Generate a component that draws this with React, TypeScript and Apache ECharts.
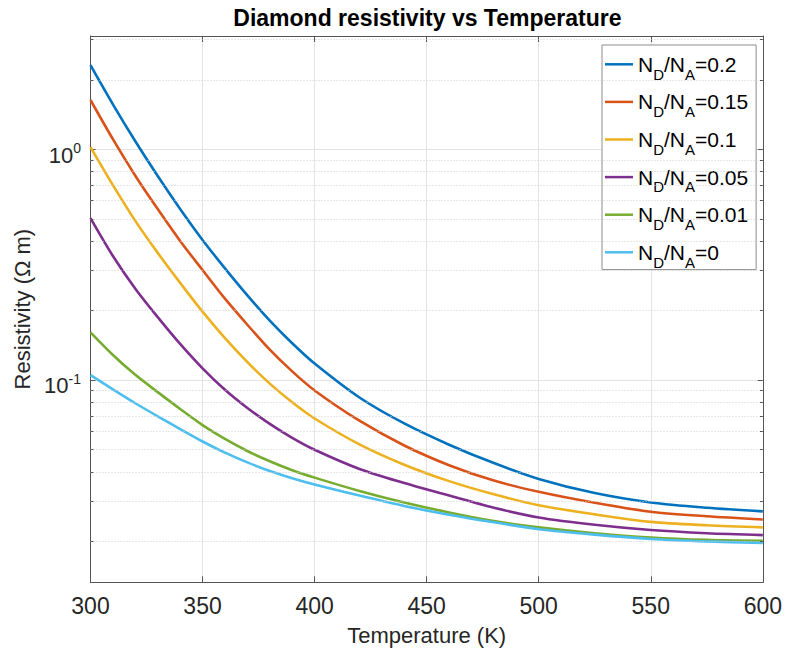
import React, { useEffect, useRef } from 'react';
import * as echarts from 'echarts';

// Temperature samples (K)
const temperatures = [300, 310, 320, 330, 340, 350, 360, 370, 380, 390, 400, 420, 440, 460, 480, 500, 525, 550, 575, 600];

// Resistivity (Ohm m) for each N_D/N_A ratio
const ratio020 = [2.317, 1.567, 1.084, 0.767, 0.552, 0.405, 0.305, 0.233, 0.181, 0.1445, 0.118, 0.0841, 0.0649, 0.0525, 0.0437, 0.0373, 0.0324, 0.0295, 0.028, 0.027];
const ratio015 = [1.637, 1.107, 0.769, 0.551, 0.401, 0.3, 0.2254, 0.1738, 0.1355, 0.1091, 0.0902, 0.0667, 0.0521, 0.0428, 0.0367, 0.0328, 0.0294, 0.0269, 0.0257, 0.0249];
const ratio010 = [1.023, 0.7, 0.49, 0.356, 0.264, 0.198, 0.152, 0.1197, 0.0966, 0.0802, 0.0682, 0.0527, 0.043, 0.0365, 0.032, 0.0287, 0.0262, 0.0243, 0.0235, 0.023];
const ratio005 = [0.5035, 0.345, 0.249, 0.1875, 0.1435, 0.1125, 0.0908, 0.0757, 0.0646, 0.0562, 0.0499, 0.0412, 0.0358, 0.0316, 0.028, 0.0254, 0.0236, 0.0224, 0.0217, 0.0213];
const ratio001 = [0.161, 0.1285, 0.1054, 0.0887, 0.075, 0.0638, 0.0556, 0.0493, 0.0445, 0.0407, 0.0378, 0.0331, 0.0295, 0.0267, 0.0245, 0.023, 0.0217, 0.0208, 0.0203, 0.0201];
const ratio000 = [0.1052, 0.0912, 0.0794, 0.0697, 0.0614, 0.0542, 0.0485, 0.044, 0.0404, 0.0376, 0.0353, 0.0316, 0.0285, 0.0261, 0.0242, 0.0226, 0.0214, 0.0205, 0.02, 0.0197];

const seriesValues = [ratio020, ratio015, ratio010, ratio005, ratio001, ratio000];
const ratioLabels = ['0.2', '0.15', '0.1', '0.05', '0.01', '0'];
const seriesColors = ['#0072BD', '#D95319', '#EDB120', '#7E2F8E', '#77AC30', '#4DBEEE'];

// Axis settings
const xMin = 300;
const xMax = 600;
const xInterval = 50;
const yMin = 0.0133;
const yMax = 3.1;
const minorGridValues = [0.02, 0.03, 0.04, 0.05, 0.06, 0.07, 0.08, 0.09, 0.2, 0.3, 0.4, 0.5, 0.6, 0.7, 0.8, 0.9, 2, 3];

const titleText = 'Diamond resistivity vs Temperature';
const xName = 'Temperature (K)';
const yName = 'Resistivity (Ω m)';

const FONT = '"Liberation Sans", Arial, Helvetica, sans-serif';
const AXIS_COLOR = '#555555';
const TEXT_COLOR = '#262626';

const seriesName = (r: string) => `ND/NA=${r}`;

export default function App() {
  const ref = useRef<HTMLDivElement>(null);

  useEffect(() => {
    if (!ref.current) return;
    const chart = echarts.init(ref.current, undefined, { renderer: 'svg' });

    const lineSeries = seriesValues.map((vals, i) => ({
      name: seriesName(ratioLabels[i]),
      type: 'line',
      data: temperatures.map((t, j) => [t, vals[j]]),
      showSymbol: false,
      symbol: 'none',
      smooth: 0.3,
      z: 3,
      color: seriesColors[i],
      lineStyle: { color: seriesColors[i], width: 2.6 },
      emphasis: { disabled: true },
    }));

    const minorGrid = {
      name: 'minorGrid',
      type: 'line',
      data: [],
      z: 1,
      silent: true,
      markLine: {
        silent: true,
        symbol: ['none', 'none'],
        label: { show: false },
        emphasis: { disabled: true },
        lineStyle: { type: [1, 2], color: '#cfcfcf', width: 1 },
        data: minorGridValues.map((v) => ({ yAxis: v })),
      },
    };

    const minorTicks = {
      name: 'minorTicks',
      type: 'line',
      data: [],
      z: 4,
      silent: true,
      markLine: {
        silent: true,
        symbol: ['none', 'none'],
        label: { show: false },
        emphasis: { disabled: true },
        lineStyle: { type: 'solid', color: AXIS_COLOR, width: 1 },
        data: minorGridValues.flatMap((v) => [
          [{ coord: [xMin, v] }, { coord: [xMin + 1.25, v] }],
          [{ coord: [xMax - 1.25, v] }, { coord: [xMax, v] }],
        ]),
      },
    };

    const logLabel = (v: number) => {
      const e = Math.log10(v);
      const r = Math.round(e);
      if (Math.abs(e - r) > 1e-6) return '';
      return `{b|10}{s|${r}}`;
    };

    const option: any = {
      animation: false,
      backgroundColor: '#ffffff',
      grid: { left: 90.5, right: 20.7, top: 36, bottom: 70.7 },
      graphic: [
        {
          type: 'text',
          x: 427.4,
          y: 6,
          silent: true,
          style: {
            text: titleText,
            fontSize: 23,
            fontWeight: 'bold',
            fontFamily: FONT,
            fill: '#000000',
            textAlign: 'center',
            textVerticalAlign: 'top',
            align: 'center',
            verticalAlign: 'top',
          },
        },
      ],
      legend: {
        orient: 'vertical',
        left: 602,
        top: 45,
        padding: [2, 8, 0, 3],
        itemGap: 3,
        itemWidth: 28,
        itemHeight: 2.5,
        icon: 'rect',
        backgroundColor: '#ffffff',
        borderColor: '#8c8c8c',
        borderWidth: 1,
        borderRadius: 0,
        selectedMode: false,
        data: ratioLabels.map((r) => seriesName(r)),
        formatter: (name: string) => {
          const r = name.split('=')[1];
          return `{n|N}{s|D}{n|/N}{s|A}{n|=${r}}`;
        },
        textStyle: {
          fontFamily: FONT,
          fontSize: 21,
          color: '#000000',
          rich: {
            n: { fontFamily: FONT, fontSize: 21, lineHeight: 24, color: '#000000' },
            s: { fontFamily: FONT, fontSize: 15, lineHeight: 15, padding: [19.6, 0, 0, 0], color: '#000000' },
          },
        },
      },
      xAxis: [
        {
          type: 'value',
          min: xMin,
          max: xMax,
          interval: xInterval,
          position: 'bottom',
          axisLine: { show: true, onZero: false, lineStyle: { color: AXIS_COLOR, width: 1 } },
          axisTick: { show: true, inside: true, length: 6, lineStyle: { color: AXIS_COLOR } },
          axisLabel: { fontSize: 23, color: TEXT_COLOR, margin: 12, fontFamily: FONT },
          splitLine: { show: true, lineStyle: { color: '#e3e3e3', width: 1 } },
          name: xName,
          nameLocation: 'middle',
          nameGap: 42,
          nameTextStyle: { fontSize: 22, color: TEXT_COLOR, fontFamily: FONT },
        },
        {
          type: 'value',
          min: xMin,
          max: xMax,
          interval: xInterval,
          position: 'top',
          axisLine: { show: true, onZero: false, lineStyle: { color: AXIS_COLOR, width: 1 } },
          axisTick: { show: true, inside: true, length: 6, lineStyle: { color: AXIS_COLOR } },
          axisLabel: { show: false },
          splitLine: { show: false },
        },
      ],
      yAxis: [
        {
          type: 'log',
          logBase: 10,
          min: yMin,
          max: yMax,
          position: 'left',
          axisLine: { show: true, onZero: false, lineStyle: { color: AXIS_COLOR, width: 1 } },
          axisTick: { show: true, inside: true, length: 5, lineStyle: { color: AXIS_COLOR } },
          axisLabel: {
            showMinLabel: false,
            showMaxLabel: false,
            margin: 9.5,
            fontSize: 22,
            fontFamily: FONT,
            color: TEXT_COLOR,
            formatter: logLabel,
            rich: {
              b: { fontFamily: FONT, fontSize: 22, lineHeight: 22, padding: [11.4, 0, 0, 0], color: TEXT_COLOR },
              s: { fontFamily: FONT, fontSize: 14, lineHeight: 14, padding: [0, 0, 2.6, 0], color: TEXT_COLOR },
            },
          },
          splitLine: { show: true, lineStyle: { color: '#e3e3e3', width: 1 } },
          name: yName,
          nameLocation: 'middle',
          nameGap: 57,
          nameTextStyle: { fontSize: 22, color: TEXT_COLOR, fontFamily: FONT },
        },
        {
          type: 'log',
          logBase: 10,
          min: yMin,
          max: yMax,
          position: 'right',
          axisLine: { show: true, onZero: false, lineStyle: { color: AXIS_COLOR, width: 1 } },
          axisTick: { show: true, inside: true, length: 5, lineStyle: { color: AXIS_COLOR } },
          axisLabel: { show: false },
          splitLine: { show: false },
        },
      ],
      series: [minorGrid, ...lineSeries, minorTicks],
    };

    chart.setOption(option);
    return () => {
      chart.dispose();
    };
  }, []);

  return (
    <div
      ref={ref}
      style={{ position: 'fixed', left: 0, top: 0, width: 785, height: 653, background: '#ffffff' }}
    />
  );
}
